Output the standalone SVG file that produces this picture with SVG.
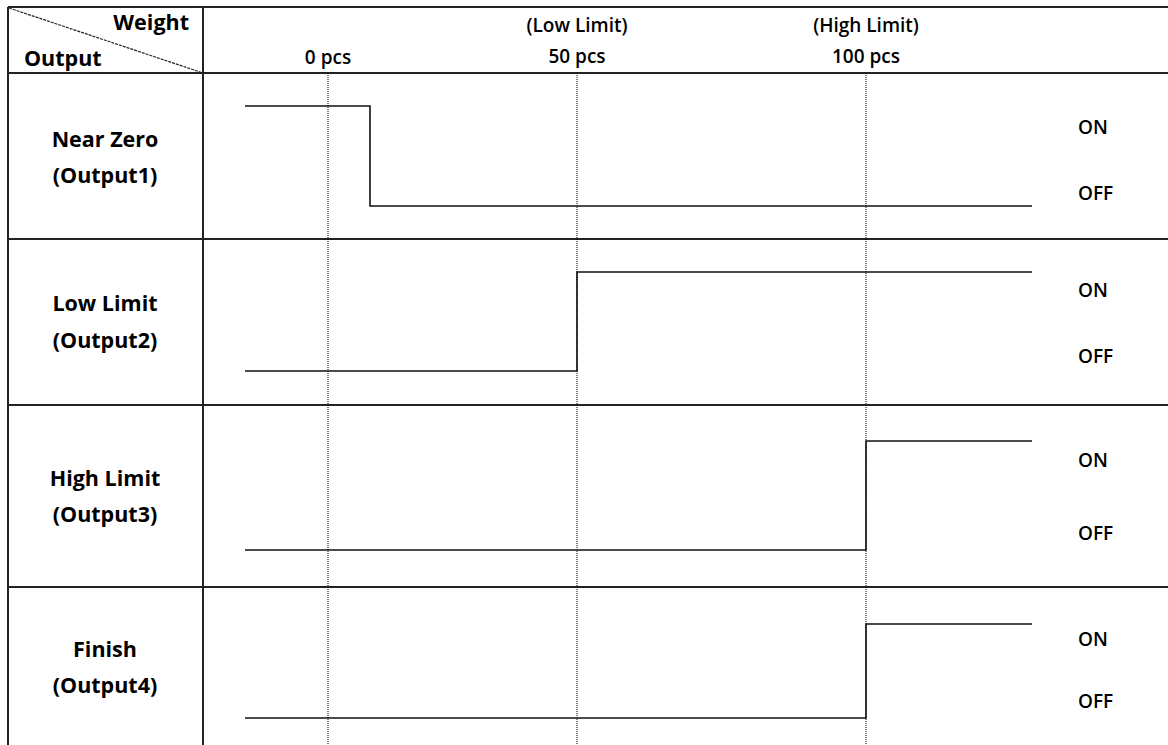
<svg xmlns="http://www.w3.org/2000/svg" width="1168" height="745" viewBox="0 0 1168 745">
<style>
.grid{stroke:#222;stroke-width:2;fill:none}
.dot{stroke:#000;stroke-width:1;stroke-dasharray:1 1;fill:none}
.wave{stroke:#111;stroke-width:1.6;fill:none}
.lbl{font-family:"Open Sans","Noto Sans",sans-serif;font-weight:bold;font-size:21.5px;fill:#000;text-anchor:middle}
.hdr{font-family:"Open Sans","Noto Sans",sans-serif;font-weight:600;font-size:19px;fill:#000;text-anchor:middle}
.st{font-family:"Open Sans","Noto Sans",sans-serif;font-weight:600;font-size:19px;fill:#000}
</style>
<rect width="1168" height="745" fill="#fff"/>
<g id="table">
<path class="grid" d="M8,7 H1168 M8,7 V745 M203,7 V745 M8,73 H1168 M8,239 H1168 M8,405 H1168 M8,587 H1168"/>
<path stroke="#222" stroke-width="1.2" stroke-dasharray="3 1" d="M9,8 L203,73"/>
</g>
<g id="header">
<text class="lbl" x="189" y="30" style="text-anchor:end">Weight</text>
<text class="lbl" x="24" y="66" style="text-anchor:start">Output</text>
<text class="hdr" x="328" y="64">0 pcs</text>
<text class="hdr" x="577" y="32">(Low Limit)</text>
<text class="hdr" x="577" y="63">50 pcs</text>
<text class="hdr" x="866" y="32">(High Limit)</text>
<text class="hdr" x="866" y="63">100 pcs</text>
</g>
<g id="connectors">
<path class="dot" d="M328,73 V745 M577,73 V745 M866,73 V745"/>
</g>
<g id="near-zero">
<text class="lbl" x="105" y="147">Near Zero</text>
<text class="lbl" x="105" y="183">(Output1)</text>
<path class="wave" d="M245,106 H370 V206 H1032"/>
<text class="st" x="1078" y="134">ON</text>
<text class="st" x="1078" y="200">OFF</text>
</g>
<g id="low-limit">
<text class="lbl" x="105" y="311">Low Limit</text>
<text class="lbl" x="105" y="348">(Output2)</text>
<path class="wave" d="M245,371 H577 V272 H1032"/>
<text class="st" x="1078" y="297">ON</text>
<text class="st" x="1078" y="363">OFF</text>
</g>
<g id="high-limit">
<text class="lbl" x="105" y="486">High Limit</text>
<text class="lbl" x="105" y="522">(Output3)</text>
<path class="wave" d="M245,550 H866 V441 H1032"/>
<text class="st" x="1078" y="467">ON</text>
<text class="st" x="1078" y="540">OFF</text>
</g>
<g id="finish">
<text class="lbl" x="105" y="657">Finish</text>
<text class="lbl" x="105" y="693">(Output4)</text>
<path class="wave" d="M245,718 H866 V624 H1032"/>
<text class="st" x="1078" y="646">ON</text>
<text class="st" x="1078" y="708">OFF</text>
</g>
</svg>
